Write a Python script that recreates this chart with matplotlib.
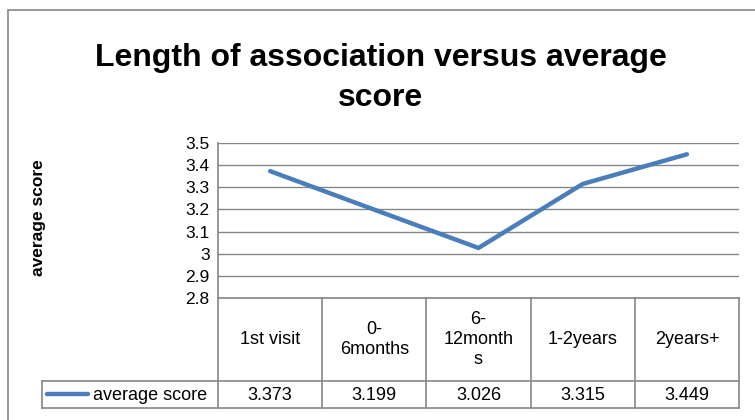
import matplotlib
matplotlib.use('Agg')
import matplotlib.pyplot as plt
from matplotlib.patches import Rectangle

# ── Data ──────────────────────────────────────────────────────
categories = ["1st visit", "0-\n6months", "6-\n12month\ns", "1-2years", "2years+"]
scores = [3.373, 3.199, 3.026, 3.315, 3.449]
value_labels = ["3.373", "3.199", "3.026", "3.315", "3.449"]
series_name = "average score"
yticks = [2.8, 2.9, 3.0, 3.1, 3.2, 3.3, 3.4, 3.5]
ytick_labels = ["2.8", "2.9", "3", "3.1", "3.2", "3.3", "3.4", "3.5"]

LINE = "#4A7EBB"
GRID = "#868686"
FONT = ['Liberation Sans Narrow', 'Liberation Sans', 'DejaVu Sans']
plt.rcParams['font.family'] = FONT

W, H = 755, 420
fig = plt.figure(figsize=(W / 100, H / 100), dpi=100)

# outer chart frame (right and bottom edges fall outside the crop)
fig.patches.append(Rectangle((8 / W, -0.01), 1.05, 1 - 10 / H + 0.01, transform=fig.transFigure,
                             fill=False, edgecolor=GRID, linewidth=1.2))

# pixel layout
px_l, px_r, px_t, px_b = 218, 739, 143, 298
ax = fig.add_axes([px_l / W, 1 - px_b / H, (px_r - px_l) / W, (px_b - px_t) / H])
x = list(range(len(scores)))
ax.plot(x, scores, color=LINE, linewidth=3.2, solid_capstyle='round')
ax.set_xlim(-0.5, len(scores) - 0.5)
ax.set_ylim(2.8, 3.5)
ax.set_yticks(yticks)
ax.set_yticklabels(ytick_labels, fontsize=12.5)
ax.tick_params(axis='y', length=0, pad=6)
ax.set_xticks([])
ax.grid(axis='y', color=GRID, linewidth=1)
for s in ['top', 'right']:
    ax.spines[s].set_visible(False)
ax.spines['left'].set_color(GRID)
ax.spines['bottom'].set_color(GRID)
ax.spines['left'].set_linewidth(1.2)
ax.spines['bottom'].set_linewidth(1.2)

fig.text(38 / W, 1 - 218 / H, "average score", rotation=90, ha='center', va='center',
         fontsize=12.5, fontweight='bold')
fig.text(381 / W, 1 - 78 / H, "Length of association versus average\nscore", ha='center',
         va='center', fontsize=23, fontweight='bold', linespacing=1.45)

# ── Data table below the plot ─────────────────────────────────
leg_l, hdr_b, tbl_b = 42, 381, 408
col_w = (px_r - px_l) / len(scores)
tax = fig.add_axes([leg_l / W, 1 - tbl_b / H, (px_r - leg_l) / W, (tbl_b - px_b) / H])
tax.set_xlim(-0.5 - (px_l - leg_l) / col_w, len(scores) - 0.5)
tax.set_ylim(tbl_b, px_b)
tax.axis('off')
lw = 1.2
x0 = -0.5 - (px_l - leg_l) / col_w
# vertical lines
tax.plot([-0.5, -0.5], [px_b, tbl_b], color=GRID, lw=lw, clip_on=False)
for i in range(len(scores)):
    tax.plot([i + 0.5, i + 0.5], [px_b, tbl_b], color=GRID, lw=lw, clip_on=False)
tax.plot([x0, x0], [hdr_b, tbl_b], color=GRID, lw=lw, clip_on=False)
# horizontal lines
tax.plot([x0, len(scores) - 0.5], [hdr_b, hdr_b], color=GRID, lw=lw, clip_on=False)
tax.plot([x0, len(scores) - 0.5], [tbl_b, tbl_b], color=GRID, lw=lw, clip_on=False)

for i, (c, v) in enumerate(zip(categories, value_labels)):
    tax.text(i, (px_b + hdr_b) / 2, c, ha='center', va='center', fontsize=13, linespacing=1.2)
    tax.text(i, (hdr_b + tbl_b) / 2 + 1, v, ha='center', va='center', fontsize=13)

# legend key in table
key_y = (hdr_b + tbl_b) / 2
tax.plot([x0 + 0.05, x0 + 0.44], [key_y, key_y], color=LINE, lw=3.2, solid_capstyle='round')
tax.text(x0 + 0.49, key_y + 1, series_name, ha='left', va='center', fontsize=13)

plt.savefig("out.png", dpi=100)
